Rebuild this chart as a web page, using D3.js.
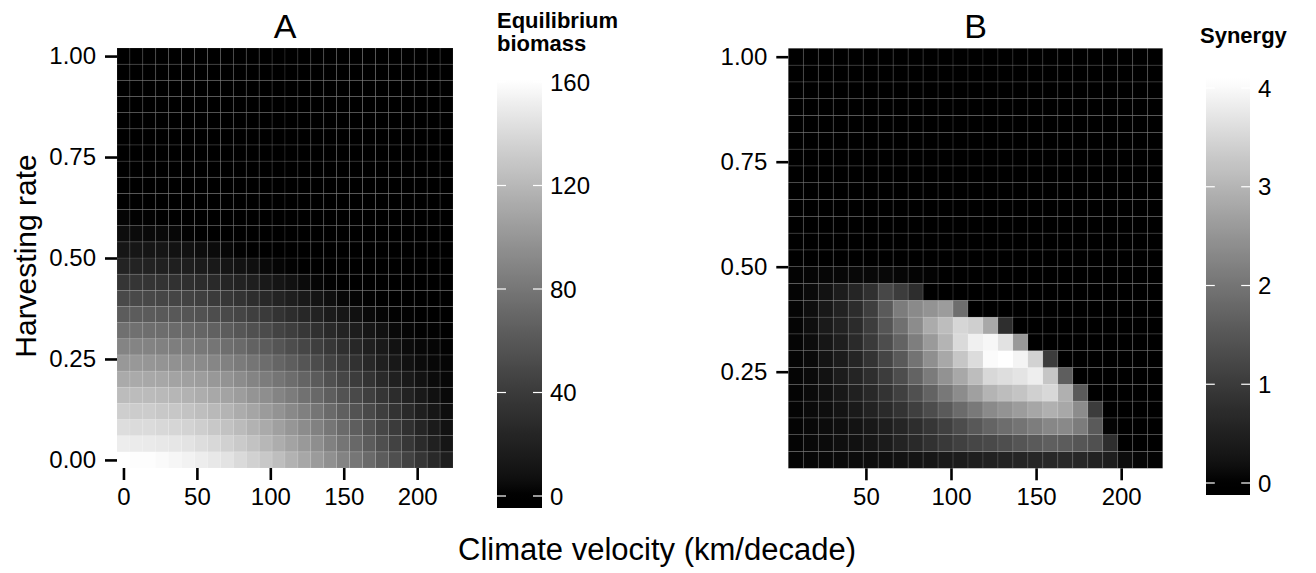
<!DOCTYPE html>
<html>
<head>
<meta charset="utf-8">
<script src="https://cdn.jsdelivr.net/npm/d3@7"></script>
<style>
  body { margin: 0; background: #fff; }
  svg { display: block; font-family: "Liberation Sans", Arial, Helvetica, sans-serif; }
</style>
</head>
<body>
<figure id="heatmaps" style="margin:0"></figure>
<script>
// grid of panel A: climate velocity (km/decade) x harvesting rate
const velocityA = [0, 8.8, 17.6, 26.4, 35.2, 44, 52.8, 61.6, 70.4, 79.2, 88, 96.8, 105.6, 114.4, 123.2, 132, 140.8, 149.6, 158.4, 167.2, 176, 184.8, 193.6, 202.4, 211.2, 220];
const harvestA = [0, 0.04, 0.08, 0.12, 0.16, 0.2, 0.24, 0.28, 0.32, 0.36, 0.4, 0.44, 0.48, 0.52, 0.56, 0.6, 0.64, 0.68, 0.72, 0.76, 0.8, 0.84, 0.88, 0.92, 0.96, 1];

// equilibrium biomass, one row per harvesting rate (lowest rate first)
const biomass = [
  [161, 160, 160, 158, 156, 154, 151, 148, 145, 140, 135, 130, 124, 117, 110, 103, 96, 88, 80, 72, 63, 54, 45, 36, 27, 18],
  [151, 150, 149, 148, 147, 145, 142, 139, 135, 131, 126, 120, 114, 108, 102, 95, 87, 79, 71, 63, 54, 45, 37, 28, 20, 12],
  [142, 141, 141, 139, 138, 136, 133, 130, 126, 122, 117, 112, 106, 100, 94, 87, 80, 72, 64, 56, 48, 40, 32, 24, 16, 9],
  [133, 132, 132, 130, 129, 127, 124, 121, 118, 113, 109, 103, 98, 92, 86, 79, 72, 65, 57, 50, 42, 34, 27, 19, 12, 6],
  [123, 123, 122, 121, 119, 117, 114, 111, 108, 104, 99, 95, 89, 84, 77, 71, 64, 57, 50, 43, 36, 29, 21, 14, 8, 4],
  [112, 112, 111, 110, 108, 106, 104, 101, 98, 94, 89, 84, 79, 74, 68, 62, 55, 48, 41, 34, 27, 20, 14, 9, 5, 3],
  [101, 101, 100, 99, 97, 95, 93, 90, 87, 83, 79, 74, 69, 64, 58, 52, 46, 40, 33, 26, 19, 13, 8, 5, 3, 2],
  [89, 89, 88, 87, 85, 84, 81, 79, 75, 72, 67, 63, 58, 53, 48, 42, 37, 31, 25, 19, 14, 9, 5, 3, 2, 1],
  [76, 76, 75, 74, 73, 71, 69, 66, 63, 59, 55, 51, 46, 42, 37, 32, 27, 22, 17, 12, 8, 4, 2, 1, 1, 0],
  [63, 63, 62, 61, 60, 58, 56, 53, 50, 47, 43, 39, 34, 30, 25, 21, 16, 12, 8, 4, 2, 1, 1, 0, 0, 0],
  [50, 50, 49, 48, 47, 45, 43, 40, 37, 34, 30, 26, 22, 18, 14, 10, 7, 3, 2, 1, 0, 0, 0, 0, 0, 0],
  [36, 36, 35, 34, 33, 31, 29, 27, 24, 21, 18, 14, 11, 8, 5, 2, 1, 0, 0, 0, 0, 0, 0, 0, 0, 0],
  [22, 22, 21, 20, 19, 18, 16, 14, 11, 9, 7, 4, 2, 1, 0, 0, 0, 0, 0, 0, 0, 0, 0, 0, 0, 0],
  [12, 12, 11, 11, 9, 8, 6, 5, 3, 1, 0, 0, 0, 0, 0, 0, 0, 0, 0, 0, 0, 0, 0, 0, 0, 0],
  [6, 5, 4, 4, 3, 1, 0, 0, 0, 0, 0, 0, 0, 0, 0, 0, 0, 0, 0, 0, 0, 0, 0, 0, 0, 0],
  [2, 1, 1, 0, 0, 0, 0, 0, 0, 0, 0, 0, 0, 0, 0, 0, 0, 0, 0, 0, 0, 0, 0, 0, 0, 0],
  [0, 0, 0, 0, 0, 0, 0, 0, 0, 0, 0, 0, 0, 0, 0, 0, 0, 0, 0, 0, 0, 0, 0, 0, 0, 0],
  [0, 0, 0, 0, 0, 0, 0, 0, 0, 0, 0, 0, 0, 0, 0, 0, 0, 0, 0, 0, 0, 0, 0, 0, 0, 0],
  [0, 0, 0, 0, 0, 0, 0, 0, 0, 0, 0, 0, 0, 0, 0, 0, 0, 0, 0, 0, 0, 0, 0, 0, 0, 0],
  [0, 0, 0, 0, 0, 0, 0, 0, 0, 0, 0, 0, 0, 0, 0, 0, 0, 0, 0, 0, 0, 0, 0, 0, 0, 0],
  [0, 0, 0, 0, 0, 0, 0, 0, 0, 0, 0, 0, 0, 0, 0, 0, 0, 0, 0, 0, 0, 0, 0, 0, 0, 0],
  [0, 0, 0, 0, 0, 0, 0, 0, 0, 0, 0, 0, 0, 0, 0, 0, 0, 0, 0, 0, 0, 0, 0, 0, 0, 0],
  [0, 0, 0, 0, 0, 0, 0, 0, 0, 0, 0, 0, 0, 0, 0, 0, 0, 0, 0, 0, 0, 0, 0, 0, 0, 0],
  [0, 0, 0, 0, 0, 0, 0, 0, 0, 0, 0, 0, 0, 0, 0, 0, 0, 0, 0, 0, 0, 0, 0, 0, 0, 0],
  [0, 0, 0, 0, 0, 0, 0, 0, 0, 0, 0, 0, 0, 0, 0, 0, 0, 0, 0, 0, 0, 0, 0, 0, 0, 0],
  [0, 0, 0, 0, 0, 0, 0, 0, 0, 0, 0, 0, 0, 0, 0, 0, 0, 0, 0, 0, 0, 0, 0, 0, 0, 0]
];

// grid of panel B (no zero velocity / zero harvest)
const velocityB = [8.8, 17.6, 26.4, 35.2, 44, 52.8, 61.6, 70.4, 79.2, 88, 96.8, 105.6, 114.4, 123.2, 132, 140.8, 149.6, 158.4, 167.2, 176, 184.8, 193.6, 202.4, 211.2, 220];
const harvestB = [0.04, 0.08, 0.12, 0.16, 0.2, 0.24, 0.28, 0.32, 0.36, 0.4, 0.44, 0.48, 0.52, 0.56, 0.6, 0.64, 0.68, 0.72, 0.76, 0.8, 0.84, 0.88, 0.92, 0.96, 1];

// synergy, one row per harvesting rate (lowest rate first)
const synergy = [
  [0.04, 0.08, 0.09, 0.11, 0.12, 0.15, 0.17, 0.22, 0.26, 0.30, 0.38, 0.42, 0.48, 0.52, 0.55, 0.59, 0.61, 0.66, 0.67, 0.63, 0.54, 0.46, 0.13, 0.07, 0.04],
  [0.05, 0.09, 0.12, 0.17, 0.21, 0.30, 0.40, 0.55, 0.68, 0.82, 0.97, 1.11, 1.21, 1.27, 1.35, 1.47, 1.56, 1.65, 1.60, 1.49, 1.39, 0.78, 0, 0, 0],
  [0.04, 0.09, 0.13, 0.17, 0.24, 0.33, 0.46, 0.59, 0.75, 0.92, 1.11, 1.31, 1.52, 1.73, 1.87, 2.00, 2.14, 2.30, 2.33, 2.13, 1.56, 0.05, 0, 0, 0],
  [0.04, 0.11, 0.16, 0.26, 0.38, 0.54, 0.70, 0.86, 1.09, 1.31, 1.56, 1.84, 2.08, 2.35, 2.48, 2.63, 2.78, 2.93, 2.81, 2.37, 1.03, 0, 0, 0, 0],
  [0.04, 0.11, 0.19, 0.33, 0.50, 0.66, 0.86, 1.11, 1.39, 1.71, 2.05, 2.37, 2.69, 2.99, 3.13, 3.23, 3.41, 3.52, 2.93, 1.56, 0, 0, 0, 0, 0],
  [0.06, 0.11, 0.22, 0.42, 0.58, 0.78, 1.03, 1.33, 1.71, 2.10, 2.47, 2.81, 3.13, 3.52, 3.61, 3.70, 3.84, 3.26, 1.63, 0, 0, 0, 0, 0, 0],
  [0.06, 0.11, 0.26, 0.42, 0.60, 0.86, 1.20, 1.54, 1.98, 2.42, 2.81, 3.26, 3.58, 4.02, 4.08, 3.92, 3.44, 1.03, 0, 0, 0, 0, 0, 0, 0],
  [0.06, 0.13, 0.30, 0.46, 0.70, 1.00, 1.33, 1.71, 2.16, 2.59, 2.99, 3.55, 3.87, 3.97, 3.67, 2.58, 0, 0, 0, 0, 0, 0, 0, 0, 0],
  [0.06, 0.16, 0.38, 0.54, 0.72, 1.05, 1.47, 1.93, 2.37, 2.86, 3.13, 3.49, 3.39, 2.81, 0.78, 0, 0, 0, 0, 0, 0, 0, 0, 0, 0],
  [0.06, 0.16, 0.33, 0.54, 0.73, 1.07, 1.56, 2.13, 2.35, 2.48, 2.63, 1.90, 0, 0, 0, 0, 0, 0, 0, 0, 0, 0, 0, 0, 0],
  [0.04, 0.11, 0.22, 0.42, 0.60, 0.81, 1.23, 1.04, 0.75, 0, 0, 0, 0, 0, 0, 0, 0, 0, 0, 0, 0, 0, 0, 0, 0],
  [0.03, 0.06, 0.07, 0.08, 0.09, 0.09, 0.09, 0.07, 0.05, 0.03, 0, 0, 0, 0, 0, 0, 0, 0, 0, 0, 0, 0, 0, 0, 0],
  [0, 0, 0, 0, 0, 0, 0, 0, 0, 0, 0, 0, 0, 0, 0, 0, 0, 0, 0, 0, 0, 0, 0, 0, 0],
  [0, 0, 0, 0, 0, 0, 0, 0, 0, 0, 0, 0, 0, 0, 0, 0, 0, 0, 0, 0, 0, 0, 0, 0, 0],
  [0, 0, 0, 0, 0, 0, 0, 0, 0, 0, 0, 0, 0, 0, 0, 0, 0, 0, 0, 0, 0, 0, 0, 0, 0],
  [0, 0, 0, 0, 0, 0, 0, 0, 0, 0, 0, 0, 0, 0, 0, 0, 0, 0, 0, 0, 0, 0, 0, 0, 0],
  [0, 0, 0, 0, 0, 0, 0, 0, 0, 0, 0, 0, 0, 0, 0, 0, 0, 0, 0, 0, 0, 0, 0, 0, 0],
  [0, 0, 0, 0, 0, 0, 0, 0, 0, 0, 0, 0, 0, 0, 0, 0, 0, 0, 0, 0, 0, 0, 0, 0, 0],
  [0, 0, 0, 0, 0, 0, 0, 0, 0, 0, 0, 0, 0, 0, 0, 0, 0, 0, 0, 0, 0, 0, 0, 0, 0],
  [0, 0, 0, 0, 0, 0, 0, 0, 0, 0, 0, 0, 0, 0, 0, 0, 0, 0, 0, 0, 0, 0, 0, 0, 0],
  [0, 0, 0, 0, 0, 0, 0, 0, 0, 0, 0, 0, 0, 0, 0, 0, 0, 0, 0, 0, 0, 0, 0, 0, 0],
  [0, 0, 0, 0, 0, 0, 0, 0, 0, 0, 0, 0, 0, 0, 0, 0, 0, 0, 0, 0, 0, 0, 0, 0, 0],
  [0, 0, 0, 0, 0, 0, 0, 0, 0, 0, 0, 0, 0, 0, 0, 0, 0, 0, 0, 0, 0, 0, 0, 0, 0],
  [0, 0, 0, 0, 0, 0, 0, 0, 0, 0, 0, 0, 0, 0, 0, 0, 0, 0, 0, 0, 0, 0, 0, 0, 0],
  [0, 0, 0, 0, 0, 0, 0, 0, 0, 0, 0, 0, 0, 0, 0, 0, 0, 0, 0, 0, 0, 0, 0, 0, 0]
];

const velocityTicksA = [0, 50, 100, 150, 200];
const velocityTicksB = [50, 100, 150, 200];
const harvestTicksA = [0, 0.25, 0.5, 0.75, 1];
const harvestTicksB = [0.25, 0.5, 0.75, 1];
const biomassTicks = [0, 40, 80, 120, 160];
const synergyTicks = [0, 1, 2, 3, 4];

const width = 1316, height = 573;
const tickFont = 24;

const svg = d3.select("figure#heatmaps").append("svg")
  .attr("width", width)
  .attr("height", height)
  .attr("viewBox", `0 0 ${width} ${height}`);

// black -> white in Lab space, like the R gradient
function greyScale(values) {
  return d3.scaleLinear()
    .domain(d3.extent(values.flat()))
    .range(["black", "white"])
    .interpolate(d3.interpolateLab);
}

function drawPanel(p) {
  const stepV = p.velocity[1] - p.velocity[0];
  const stepH = p.harvest[1] - p.harvest[0];
  const x = d3.scaleLinear()
    .domain([d3.min(p.velocity) - stepV / 2, d3.max(p.velocity) + stepV / 2])
    .range(p.xRange);
  const y = d3.scaleLinear()
    .domain([d3.min(p.harvest) - stepH / 2, d3.max(p.harvest) + stepH / 2])
    .range(p.yRange);

  const cells = [];
  p.values.forEach((row, i) => row.forEach((val, j) => {
    cells.push({ v: p.velocity[j], h: p.harvest[i], val: val });
  }));

  const g = svg.append("g");
  g.selectAll("rect.cell")
    .data(cells).enter()
    .append("rect")
    .attr("class", "cell")
    .attr("x", (d) => x(d.v - stepV / 2))
    .attr("y", (d) => y(d.h + stepH / 2))
    .attr("width", (d) => x(d.v + stepV / 2) - x(d.v - stepV / 2))
    .attr("height", (d) => y(d.h - stepH / 2) - y(d.h + stepH / 2))
    .attr("fill", (d) => p.color(d.val))
    .attr("stroke", "#fff")
    .attr("stroke-opacity", 0.14)
    .attr("stroke-width", 0.7);

  const yAxis = g.append("g")
    .attr("transform", `translate(${p.xRange[0]},0)`)
    .call(d3.axisLeft(y).tickValues(p.yTicks).tickFormat(d3.format(".2f")).tickSize(12).tickPadding(9));
  const xAxis = g.append("g")
    .attr("transform", `translate(0,${p.yRange[0]})`)
    .call(d3.axisBottom(x).tickValues(p.xTicks).tickFormat(d3.format("d")).tickSize(12).tickPadding(8));

  [xAxis, yAxis].forEach((axis) => {
    axis.select(".domain").remove();
    axis.selectAll(".tick line").attr("stroke", "#000").attr("stroke-width", 2.6);
    axis.selectAll(".tick text")
      .attr("fill", "#000")
      .style("font-size", tickFont + "px")
      .style("font-family", "inherit");
  });

  g.append("text")
    .attr("x", (p.xRange[0] + p.xRange[1]) / 2)
    .attr("y", 38)
    .attr("text-anchor", "middle")
    .style("font-size", "34px")
    .text(p.title);
}

function drawColorbar(c) {
  const bar = d3.scaleLinear().domain(c.tickRange).range(c.tickPos);
  const extent = c.color.domain();
  const id = "grad-" + c.name;

  const grad = svg.append("defs").append("linearGradient")
    .attr("id", id)
    .attr("x1", 0).attr("y1", 0).attr("x2", 0).attr("y2", 1);
  d3.range(0, 61).forEach((i) => {
    const t = i / 60;
    const val = bar.invert(c.top + t * (c.bottom - c.top));
    grad.append("stop")
      .attr("offset", t)
      .attr("stop-color", c.color(Math.max(extent[0], Math.min(extent[1], val))));
  });

  svg.append("rect")
    .attr("x", c.x)
    .attr("y", c.top)
    .attr("width", c.width)
    .attr("height", c.bottom - c.top)
    .attr("fill", `url(#${id})`);

  const ticks = svg.append("g").selectAll("g")
    .data(c.ticks).enter()
    .append("g")
    .attr("transform", (d) => `translate(0,${bar(d)})`);
  ticks.append("line")
    .attr("x1", c.x).attr("x2", c.x + c.width / 5)
    .attr("stroke", "#fff").attr("stroke-width", 1.2);
  ticks.append("line")
    .attr("x1", c.x + c.width * 4 / 5).attr("x2", c.x + c.width)
    .attr("stroke", "#fff").attr("stroke-width", 1.2);
  ticks.append("text")
    .attr("x", c.x + c.width + 8)
    .attr("dy", "0.36em")
    .style("font-size", tickFont + "px")
    .text((d) => d);

  c.title.forEach((line, i) => {
    svg.append("text")
      .attr("x", c.titleX)
      .attr("y", c.titleY + i * 23)
      .style("font-size", "22px")
      .style("font-weight", "bold")
      .text(line);
  });
}

const colorA = greyScale(biomass);
const colorB = greyScale(synergy);

drawPanel({
  title: "A", velocity: velocityA, harvest: harvestA, values: biomass, color: colorA,
  xRange: [117, 453], yRange: [468, 48], xTicks: velocityTicksA, yTicks: harvestTicksA
});
drawPanel({
  title: "B", velocity: velocityB, harvest: harvestB, values: synergy, color: colorB,
  xRange: [788.3, 1162.7], yRange: [468.3, 48.3], xTicks: velocityTicksB, yTicks: harvestTicksB
});

drawColorbar({
  name: "a", color: colorA, ticks: biomassTicks, tickRange: [0, 160], tickPos: [496, 82],
  x: 497, width: 45, top: 65, bottom: 508,
  title: ["Equilibrium", "biomass"], titleX: 497, titleY: 28
});
drawColorbar({
  name: "b", color: colorB, ticks: synergyTicks, tickRange: [0, 4], tickPos: [483, 88],
  x: 1206, width: 44, top: 70, bottom: 495,
  title: ["Synergy"], titleX: 1200, titleY: 43
});

// shared axis titles
svg.append("text")
  .attr("x", 657)
  .attr("y", 560)
  .attr("text-anchor", "middle")
  .style("font-size", "31px")
  .text("Climate velocity (km/decade)");

svg.append("text")
  .attr("transform", "translate(36,256) rotate(-90)")
  .attr("text-anchor", "middle")
  .style("font-size", "30px")
  .text("Harvesting rate");
</script>
</body>
</html>
